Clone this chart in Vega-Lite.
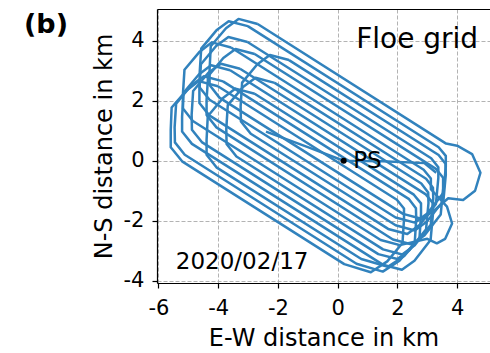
{
  "$schema": "https://vega.github.io/schema/vega-lite/v6.json",
  "width": 333,
  "height": 274,
  "autosize": {"type": "none"},
  "padding": {"left": 157, "top": 9, "right": 0, "bottom": 70},
  "background": "white",
  "config": {
    "font": "DejaVu Sans",
    "view": {"stroke": null},
    "axis": {
      "domainColor": "black",
      "domainWidth": 1.2,
      "tickColor": "black",
      "tickSize": 5,
      "tickWidth": 1.2,
      "labelColor": "black",
      "labelFont": "DejaVu Sans",
      "labelFontSize": 21,
      "titleFont": "DejaVu Sans",
      "titleFontSize": 24,
      "titleFontWeight": "normal",
      "titleColor": "black",
      "gridColor": "#aaaaaa",
      "gridDash": [4, 2],
      "gridWidth": 0.9
    }
  },
  "title": {
    "text": "(b)",
    "anchor": "start",
    "frame": "group",
    "orient": "top",
    "offset": 0,
    "dx": -133,
    "dy": 51,
    "baseline": "alphabetic",
    "align": "left",
    "font": "DejaVu Sans",
    "fontSize": 27,
    "fontWeight": "bold",
    "color": "black"
  },
  "layer": [
    {
      "data": {"values": [
        {"loop": "s", "i": 0, "x": -2.4, "y": 0.97},
        {"loop": "s", "i": 1, "x": -1.0, "y": 0.45},
        {"loop": "s", "i": 2, "x": 0.2, "y": 0.0},
        {"loop": "s", "i": 3, "x": 1.5, "y": -0.02},
        {"loop": "s", "i": 4, "x": 2.9, "y": -0.08},
        {"loop": "s", "i": 5, "x": 3.3, "y": -0.4},

        {"loop": "l0", "i": 0, "x": -2.68, "y": 4.55},
        {"loop": "l0", "i": 1, "x": 3.63, "y": 0.57},
        {"loop": "l0", "i": 2, "x": 4.0, "y": 0.5},
        {"loop": "l0", "i": 3, "x": 4.5, "y": 0.22},
        {"loop": "l0", "i": 4, "x": 4.78, "y": -0.4},
        {"loop": "l0", "i": 5, "x": 4.6, "y": -1.0},
        {"loop": "l0", "i": 6, "x": 4.2, "y": -1.31},
        {"loop": "l0", "i": 7, "x": 3.7, "y": -1.25},
        {"loop": "l0", "i": 8, "x": 3.25, "y": -1.64},
        {"loop": "l0", "i": 9, "x": 2.83, "y": -1.94},
        {"loop": "l0", "i": 10, "x": 2.19, "y": -1.77},
        {"loop": "l0", "i": 11, "x": -3.96, "y": 2.1},
        {"loop": "l0", "i": 12, "x": -4.29, "y": 2.52},
        {"loop": "l0", "i": 13, "x": -4.29, "y": 3.02},
        {"loop": "l0", "i": 13.5, "x": -4.25, "y": 3.81},
        {"loop": "l0", "i": 14, "x": -3.74, "y": 4.41},
        {"loop": "l0", "i": 15, "x": -3.32, "y": 4.72},
        {"loop": "l0", "i": 16, "x": -2.68, "y": 4.55},

        {"loop": "l1", "i": 0, "x": -3.01, "y": 4.48},
        {"loop": "l1", "i": 1, "x": 3.38, "y": 0.45},
        {"loop": "l1", "i": 2, "x": 3.62, "y": 0.16},
        {"loop": "l1", "i": 3, "x": 3.62, "y": -0.2},
        {"loop": "l1", "i": 3.5, "x": 3.54, "y": -1.07},
        {"loop": "l1", "i": 4, "x": 3.0, "y": -1.76},
        {"loop": "l1", "i": 5, "x": 2.58, "y": -2.06},
        {"loop": "l1", "i": 6, "x": 1.94, "y": -1.89},
        {"loop": "l1", "i": 7, "x": -4.29, "y": 2.03},
        {"loop": "l1", "i": 8, "x": -4.62, "y": 2.44},
        {"loop": "l1", "i": 9, "x": -4.62, "y": 2.94},
        {"loop": "l1", "i": 9.5, "x": -4.57, "y": 3.73},
        {"loop": "l1", "i": 10, "x": -4.06, "y": 4.34},
        {"loop": "l1", "i": 11, "x": -3.65, "y": 4.64},
        {"loop": "l1", "i": 12, "x": -3.01, "y": 4.48},

        {"loop": "l2", "i": 0, "x": -1.63, "y": 3.35},
        {"loop": "l2", "i": 1, "x": 3.38, "y": 0.19},
        {"loop": "l2", "i": 2, "x": 3.61, "y": -0.1},
        {"loop": "l2", "i": 3, "x": 3.62, "y": -0.46},
        {"loop": "l2", "i": 3.5, "x": 3.54, "y": -1.33},
        {"loop": "l2", "i": 4, "x": 2.99, "y": -2.02},
        {"loop": "l2", "i": 5, "x": 2.58, "y": -2.32},
        {"loop": "l2", "i": 6, "x": 1.94, "y": -2.15},
        {"loop": "l2", "i": 7, "x": -2.91, "y": 0.9},
        {"loop": "l2", "i": 8, "x": -3.24, "y": 1.31},
        {"loop": "l2", "i": 9, "x": -3.25, "y": 1.81},
        {"loop": "l2", "i": 9.5, "x": -3.2, "y": 2.6},
        {"loop": "l2", "i": 10, "x": -2.69, "y": 3.21},
        {"loop": "l2", "i": 11, "x": -2.27, "y": 3.52},
        {"loop": "l2", "i": 12, "x": -1.63, "y": 3.35},

        {"loop": "l3", "i": 0, "x": -3.02, "y": 3.95},
        {"loop": "l3", "i": 1, "x": 3.13, "y": 0.08},
        {"loop": "l3", "i": 2, "x": 3.37, "y": -0.22},
        {"loop": "l3", "i": 3, "x": 3.37, "y": -0.57},
        {"loop": "l3", "i": 3.5, "x": 3.29, "y": -1.44},
        {"loop": "l3", "i": 4, "x": 2.75, "y": -2.13},
        {"loop": "l3", "i": 5, "x": 2.33, "y": -2.44},
        {"loop": "l3", "i": 6, "x": 1.69, "y": -2.27},
        {"loop": "l3", "i": 7, "x": -4.3, "y": 1.51},
        {"loop": "l3", "i": 8, "x": -4.63, "y": 1.92},
        {"loop": "l3", "i": 9, "x": -4.63, "y": 2.42},
        {"loop": "l3", "i": 9.5, "x": -4.58, "y": 3.21},
        {"loop": "l3", "i": 10, "x": -4.07, "y": 3.82},
        {"loop": "l3", "i": 11, "x": -3.66, "y": 4.12},
        {"loop": "l3", "i": 12, "x": -3.02, "y": 3.95},

        {"loop": "l4", "i": 0, "x": -2.78, "y": 3.55},
        {"loop": "l4", "i": 1, "x": 3.29, "y": -0.27},
        {"loop": "l4", "i": 2, "x": 3.53, "y": -0.57},
        {"loop": "l4", "i": 3, "x": 3.53, "y": -0.92},
        {"loop": "l4", "i": 3.5, "x": 3.45, "y": -1.79},
        {"loop": "l4", "i": 4, "x": 2.91, "y": -2.48},
        {"loop": "l4", "i": 5, "x": 2.49, "y": -2.79},
        {"loop": "l4", "i": 6, "x": 1.85, "y": -2.62},
        {"loop": "l4", "i": 7, "x": -4.06, "y": 1.11},
        {"loop": "l4", "i": 8, "x": -4.39, "y": 1.52},
        {"loop": "l4", "i": 9, "x": -4.39, "y": 2.02},
        {"loop": "l4", "i": 9.5, "x": -4.34, "y": 2.81},
        {"loop": "l4", "i": 10, "x": -3.83, "y": 3.42},
        {"loop": "l4", "i": 11, "x": -3.42, "y": 3.72},
        {"loop": "l4", "i": 12, "x": -2.78, "y": 3.55},

        {"loop": "l5", "i": 0, "x": -3.57, "y": 3.77},
        {"loop": "l5", "i": 1, "x": 2.88, "y": -0.3},
        {"loop": "l5", "i": 2, "x": 3.12, "y": -0.59},
        {"loop": "l5", "i": 3, "x": 3.12, "y": -0.95},
        {"loop": "l5", "i": 4, "x": 3.66, "y": -1.53},
        {"loop": "l5", "i": 5, "x": 3.83, "y": -2.09},
        {"loop": "l5", "i": 6, "x": 3.6, "y": -2.6},
        {"loop": "l5", "i": 7, "x": 3.32, "y": -2.75},
        {"loop": "l5", "i": 8, "x": 3.0, "y": -2.6},
        {"loop": "l5", "i": 9, "x": 2.08, "y": -2.81},
        {"loop": "l5", "i": 10, "x": 1.44, "y": -2.64},
        {"loop": "l5", "i": 11, "x": -4.85, "y": 1.32},
        {"loop": "l5", "i": 12, "x": -5.18, "y": 1.74},
        {"loop": "l5", "i": 13, "x": -5.18, "y": 2.24},
        {"loop": "l5", "i": 13.5, "x": -5.13, "y": 3.03},
        {"loop": "l5", "i": 14, "x": -4.62, "y": 3.63},
        {"loop": "l5", "i": 15, "x": -4.21, "y": 3.94},
        {"loop": "l5", "i": 16, "x": -3.57, "y": 3.77},

        {"loop": "l6", "i": 0, "x": -2.11, "y": 2.59},
        {"loop": "l6", "i": 1, "x": 2.96, "y": -0.6},
        {"loop": "l6", "i": 2, "x": 3.19, "y": -0.9},
        {"loop": "l6", "i": 3, "x": 3.2, "y": -1.25},
        {"loop": "l6", "i": 3.5, "x": 3.12, "y": -2.12},
        {"loop": "l6", "i": 4, "x": 2.58, "y": -2.81},
        {"loop": "l6", "i": 5, "x": 2.16, "y": -3.12},
        {"loop": "l6", "i": 6, "x": 1.52, "y": -2.95},
        {"loop": "l6", "i": 7, "x": -3.39, "y": 0.14},
        {"loop": "l6", "i": 8, "x": -3.72, "y": 0.56},
        {"loop": "l6", "i": 9, "x": -3.73, "y": 1.06},
        {"loop": "l6", "i": 9.5, "x": -3.68, "y": 1.85},
        {"loop": "l6", "i": 10, "x": -3.17, "y": 2.45},
        {"loop": "l6", "i": 11, "x": -2.75, "y": 2.76},
        {"loop": "l6", "i": 12, "x": -2.11, "y": 2.59},

        {"loop": "l7", "i": 0, "x": -3.27, "y": 3.06},
        {"loop": "l7", "i": 1, "x": 2.8, "y": -0.76},
        {"loop": "l7", "i": 2, "x": 3.03, "y": -1.06},
        {"loop": "l7", "i": 3, "x": 3.04, "y": -1.41},
        {"loop": "l7", "i": 3.5, "x": 2.96, "y": -2.28},
        {"loop": "l7", "i": 4, "x": 2.41, "y": -2.97},
        {"loop": "l7", "i": 5, "x": 2.0, "y": -3.27},
        {"loop": "l7", "i": 6, "x": 1.36, "y": -3.11},
        {"loop": "l7", "i": 7, "x": -4.55, "y": 0.62},
        {"loop": "l7", "i": 8, "x": -4.88, "y": 1.03},
        {"loop": "l7", "i": 9, "x": -4.89, "y": 1.53},
        {"loop": "l7", "i": 9.5, "x": -4.84, "y": 2.32},
        {"loop": "l7", "i": 10, "x": -4.33, "y": 2.93},
        {"loop": "l7", "i": 11, "x": -3.91, "y": 3.23},
        {"loop": "l7", "i": 12, "x": -3.27, "y": 3.06},

        {"loop": "l8", "i": 0, "x": -3.6, "y": 3.01},
        {"loop": "l8", "i": 1, "x": 2.95, "y": -1.12},
        {"loop": "l8", "i": 2, "x": 3.19, "y": -1.41},
        {"loop": "l8", "i": 3, "x": 3.19, "y": -1.77},
        {"loop": "l8", "i": 3.5, "x": 3.11, "y": -2.64},
        {"loop": "l8", "i": 4, "x": 2.57, "y": -3.33},
        {"loop": "l8", "i": 5, "x": 2.15, "y": -3.63},
        {"loop": "l8", "i": 6, "x": 1.51, "y": -3.46},
        {"loop": "l8", "i": 7, "x": -4.88, "y": 0.56},
        {"loop": "l8", "i": 8, "x": -5.21, "y": 0.97},
        {"loop": "l8", "i": 9, "x": -5.21, "y": 1.47},
        {"loop": "l8", "i": 9.5, "x": -5.16, "y": 2.26},
        {"loop": "l8", "i": 10, "x": -4.65, "y": 2.87},
        {"loop": "l8", "i": 11, "x": -4.24, "y": 3.18},
        {"loop": "l8", "i": 12, "x": -3.6, "y": 3.01},

        {"loop": "l9", "i": 0, "x": -2.78, "y": 2.23},
        {"loop": "l9", "i": 1, "x": 2.55, "y": -1.13},
        {"loop": "l9", "i": 2, "x": 2.79, "y": -1.42},
        {"loop": "l9", "i": 3, "x": 2.79, "y": -1.78},
        {"loop": "l9", "i": 3.5, "x": 2.74, "y": -2.57},
        {"loop": "l9", "i": 4, "x": 2.23, "y": -3.17},
        {"loop": "l9", "i": 5, "x": 1.68, "y": -3.53},
        {"loop": "l9", "i": 6, "x": 0.79, "y": -3.27},
        {"loop": "l9", "i": 7, "x": -4.06, "y": -0.22},
        {"loop": "l9", "i": 8, "x": -4.39, "y": 0.2},
        {"loop": "l9", "i": 9, "x": -4.39, "y": 0.69},
        {"loop": "l9", "i": 9.5, "x": -4.35, "y": 1.48},
        {"loop": "l9", "i": 10, "x": -3.84, "y": 2.09},
        {"loop": "l9", "i": 11, "x": -3.42, "y": 2.4},
        {"loop": "l9", "i": 12, "x": -2.78, "y": 2.23},

        {"loop": "l10", "i": 0, "x": -3.84, "y": 2.64},
        {"loop": "l10", "i": 1, "x": 2.39, "y": -1.28},
        {"loop": "l10", "i": 2, "x": 2.62, "y": -1.58},
        {"loop": "l10", "i": 3, "x": 2.63, "y": -1.94},
        {"loop": "l10", "i": 3.5, "x": 2.58, "y": -2.73},
        {"loop": "l10", "i": 4, "x": 2.07, "y": -3.33},
        {"loop": "l10", "i": 5, "x": 1.51, "y": -3.69},
        {"loop": "l10", "i": 6, "x": 0.63, "y": -3.43},
        {"loop": "l10", "i": 7, "x": -5.12, "y": 0.2},
        {"loop": "l10", "i": 8, "x": -5.45, "y": 0.61},
        {"loop": "l10", "i": 9, "x": -5.46, "y": 1.11},
        {"loop": "l10", "i": 9.5, "x": -5.41, "y": 1.9},
        {"loop": "l10", "i": 10, "x": -4.9, "y": 2.51},
        {"loop": "l10", "i": 11, "x": -4.48, "y": 2.81},
        {"loop": "l10", "i": 12, "x": -3.84, "y": 2.64},

        {"loop": "l11", "i": 0, "x": -4.01, "y": 2.48},
        {"loop": "l11", "i": 1, "x": 1.98, "y": -1.3},
        {"loop": "l11", "i": 2, "x": 2.22, "y": -1.59},
        {"loop": "l11", "i": 3, "x": 2.22, "y": -1.95},
        {"loop": "l11", "i": 3.5, "x": 2.17, "y": -2.74},
        {"loop": "l11", "i": 4, "x": 1.66, "y": -3.35},
        {"loop": "l11", "i": 5, "x": 1.11, "y": -3.71},
        {"loop": "l11", "i": 6, "x": 0.22, "y": -3.44},
        {"loop": "l11", "i": 7, "x": -5.21, "y": -0.02},
        {"loop": "l11", "i": 8, "x": -5.59, "y": 0.45},
        {"loop": "l11", "i": 9, "x": -5.59, "y": 1.02},
        {"loop": "l11", "i": 9.5, "x": -5.56, "y": 1.77},
        {"loop": "l11", "i": 10, "x": -5.06, "y": 2.34},
        {"loop": "l11", "i": 11, "x": -4.65, "y": 2.65},
        {"loop": "l11", "i": 12, "x": -4.01, "y": 2.48}
      ]},
      "mark": {"type": "line", "color": "#3182bd", "strokeWidth": 2.5, "strokeJoin": "round", "clip": true},
      "encoding": {
        "x": {
          "field": "x", "type": "quantitative",
          "scale": {"domain": [-6.05, 5.1], "nice": false, "zero": false},
          "axis": {"orient": "bottom", "values": [-6, -4, -2, 0, 2, 4], "labelExpr": "datum.value < 0 ? '-' + abs(datum.value) : '' + datum.value", "title": "E-W distance in km", "labelPadding": 9, "titlePadding": 8, "grid": true, "labelFlush": false}
        },
        "y": {
          "field": "y", "type": "quantitative",
          "scale": {"domain": [-4.07, 5.05], "nice": false, "zero": false},
          "axis": {"orient": "left", "values": [-4, -2, 0, 2, 4], "labelExpr": "datum.value < 0 ? '-' + abs(datum.value) : '' + datum.value", "title": "N-S distance in km", "labelPadding": 8, "titlePadding": 7, "grid": true, "labelFlush": false}
        },
        "detail": {"field": "loop"},
        "order": {"field": "i"}
      }
    },
    {
      "data": {"values": [{"x": 0.2, "y": 0.0}]},
      "mark": {"type": "point", "filled": true, "color": "black", "size": 36, "opacity": 1},
      "encoding": {
        "x": {"field": "x", "type": "quantitative", "axis": {"orient": "top", "labels": false, "ticks": false, "grid": false, "domain": true, "title": null}},
        "y": {"field": "y", "type": "quantitative"}
      }
    },
    {
      "data": {"values": [{"x": 0.52, "y": -0.25, "label": "PS"}]},
      "mark": {"type": "text", "align": "left", "baseline": "alphabetic", "fontSize": 23, "font": "DejaVu Sans", "color": "black"},
      "encoding": {
        "x": {"field": "x", "type": "quantitative", "axis": null},
        "y": {"field": "y", "type": "quantitative"},
        "text": {"field": "label"}
      }
    },
    {
      "data": {"values": [{"x": 2.66, "y": 3.75, "label": "Floe grid"}]},
      "mark": {"type": "text", "align": "center", "baseline": "alphabetic", "fontSize": 28, "font": "DejaVu Sans", "color": "black"},
      "encoding": {
        "x": {"field": "x", "type": "quantitative", "axis": null},
        "y": {"field": "y", "type": "quantitative"},
        "text": {"field": "label"}
      }
    },
    {
      "data": {"values": [{"x": -3.2, "y": -3.59, "label": "2020/02/17"}]},
      "mark": {"type": "text", "align": "center", "baseline": "alphabetic", "fontSize": 23, "font": "DejaVu Sans", "color": "black"},
      "encoding": {
        "x": {"field": "x", "type": "quantitative", "axis": null},
        "y": {"field": "y", "type": "quantitative"},
        "text": {"field": "label"}
      }
    }
  ],
  "resolve": {"axis": {"x": "independent"}}
}
